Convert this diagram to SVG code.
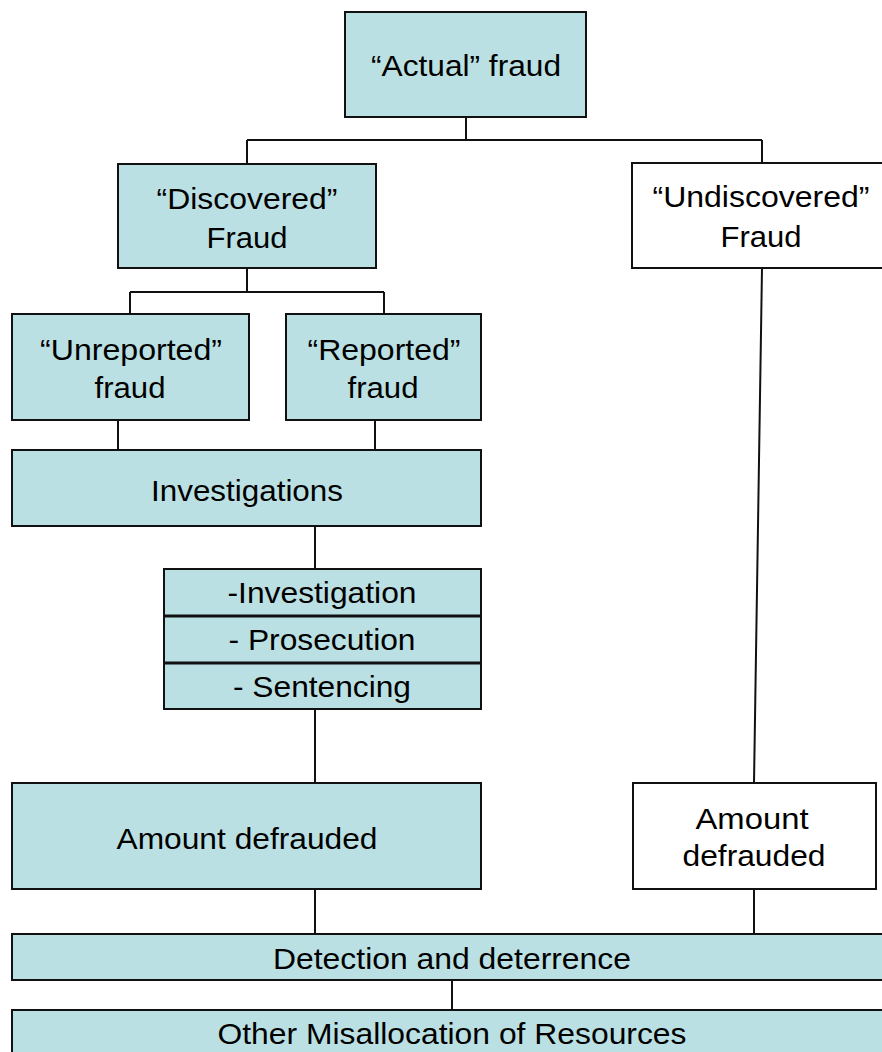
<svg xmlns="http://www.w3.org/2000/svg" width="882" height="1052" viewBox="0 0 882 1052">
<style>
.box{fill:#BBE0E3;stroke:#111;stroke-width:2}
.wbox{fill:#fff;stroke:#111;stroke-width:2}
.div{stroke:#111;stroke-width:3}
.con{fill:none;stroke:#111;stroke-width:2}
text{font-family:"Liberation Sans",Arial,sans-serif;font-size:29.5px;fill:#000;text-anchor:middle}
</style>
<rect width="882" height="1052" fill="#fff"/>
<g id="connectors">
<path class="con" d="M466 117V140M247 140H762M247 140V164M762 140V163"/>
<path class="con" d="M247 268V292M130 292H384M130 292V314M384 292V314"/>
<path class="con" d="M118 420V450M375 420V450"/>
<path class="con" d="M315 526V569"/>
<path class="con" d="M315 709V783"/>
<path class="con" d="M762 268L754 783"/>
<path class="con" d="M315 889V934M754 889V934"/>
<path class="con" d="M452 980V1010"/>
</g>
<g id="actual">
<rect class="box" x="345" y="12" width="241" height="105"/>
<text x="466" y="76" textLength="190" lengthAdjust="spacingAndGlyphs">“Actual” fraud</text>
</g>
<g id="discovered">
<rect class="box" x="118" y="164" width="258" height="104"/>
<text x="247" y="209" textLength="181" lengthAdjust="spacingAndGlyphs">“Discovered”</text>
<text x="247" y="248" textLength="81" lengthAdjust="spacingAndGlyphs">Fraud</text>
</g>
<g id="undiscovered">
<rect class="wbox" x="632" y="163" width="258" height="105"/>
<text x="761" y="207" textLength="217" lengthAdjust="spacingAndGlyphs">“Undiscovered”</text>
<text x="761" y="247" textLength="81" lengthAdjust="spacingAndGlyphs">Fraud</text>
</g>
<g id="unreported">
<rect class="box" x="12" y="314" width="237" height="106"/>
<text x="131" y="360" textLength="182" lengthAdjust="spacingAndGlyphs">“Unreported”</text>
<text x="130" y="398" textLength="71" lengthAdjust="spacingAndGlyphs">fraud</text>
</g>
<g id="reported">
<rect class="box" x="286" y="314" width="195" height="106"/>
<text x="384" y="360" textLength="153" lengthAdjust="spacingAndGlyphs">“Reported”</text>
<text x="383" y="398" textLength="71" lengthAdjust="spacingAndGlyphs">fraud</text>
</g>
<g id="investigations">
<rect class="box" x="12" y="450" width="469" height="76"/>
<text x="247" y="501" textLength="192" lengthAdjust="spacingAndGlyphs">Investigations</text>
</g>
<g id="process">
<rect class="box" x="164" y="569" width="317" height="140"/>
<line class="div" x1="164" y1="616" x2="481" y2="616"/>
<line class="div" x1="164" y1="663" x2="481" y2="663"/>
<text x="322" y="603" textLength="189" lengthAdjust="spacingAndGlyphs">-Investigation</text>
<text x="322" y="650" textLength="187" lengthAdjust="spacingAndGlyphs">- Prosecution</text>
<text x="322" y="697" textLength="178" lengthAdjust="spacingAndGlyphs">- Sentencing</text>
</g>
<g id="amount-left">
<rect class="box" x="12" y="783" width="469" height="106"/>
<text x="247" y="849" textLength="261" lengthAdjust="spacingAndGlyphs">Amount defrauded</text>
</g>
<g id="amount-right">
<rect class="wbox" x="633" y="783" width="243" height="106"/>
<text x="752" y="829" textLength="113" lengthAdjust="spacingAndGlyphs">Amount</text>
<text x="754" y="866" textLength="143" lengthAdjust="spacingAndGlyphs">defrauded</text>
</g>
<g id="detection">
<rect class="box" x="12" y="934" width="880" height="46"/>
<text x="452" y="969" textLength="358" lengthAdjust="spacingAndGlyphs">Detection and deterrence</text>
</g>
<g id="other">
<rect class="box" x="12" y="1010" width="880" height="60"/>
<text x="452" y="1044" textLength="469" lengthAdjust="spacingAndGlyphs">Other Misallocation of Resources</text>
</g>
</svg>
